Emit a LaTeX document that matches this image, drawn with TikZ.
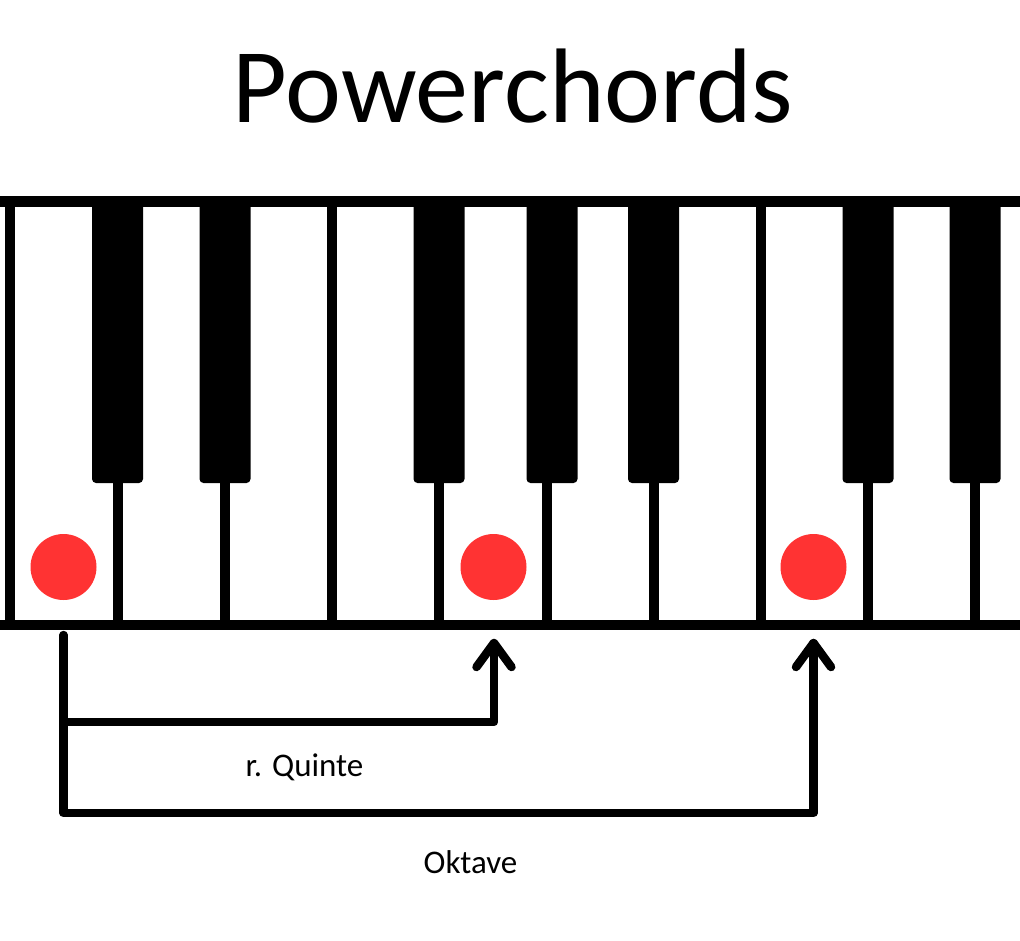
\documentclass[tikz,border=0pt]{standalone}
\usepackage{fontspec}
\setmainfont{Carlito}
\begin{document}
\begin{tikzpicture}[x=1pt,y=-1pt,
  wline/.style={line width=10pt},
  bkey/.style={fill=black,rounded corners=4pt},
  dot/.style={circle,fill=red!80!white,minimum size=66pt,inner sep=0pt},
  conn/.style={line width=8.5pt,line cap=round,line join=round},
  lbl/.style={font=\fontsize{33}{36}\selectfont,inner sep=0pt}]
\useasboundingbox[fill=white] (0,0) rectangle (1020,940);
% title
\node[font=\fontsize{106}{110}\selectfont,anchor=base,inner sep=0pt] (title) at (513,122) {Powerchords};
% white key dividers
\foreach \x in {10,117.5,225,332,439,547,653.5,761,868,975}
  \draw[wline] (\x,201) -- (\x,625);
% black keys
\foreach \x in {117.5,225,439,552,653.5,868,975}
  \path[bkey] (\x-25.5,200) -- (\x+25.5,200) -- (\x+25.5,483) -- (\x-25.5,483) -- cycle;
% top and bottom bars
\draw[line width=11pt] (0,201) -- (1020,201);
\draw[wline] (0,625) -- (1020,625);
% dots
\node[dot] (root) at (63.5,567) {};
\node[dot] (fifth) at (493.5,567) {};
\node[dot] (octave) at (813.5,567) {};
% connectors
\coordinate (rs) at (63.5,635);
\coordinate (qc) at (63.5,722);
\coordinate (oc) at (63.5,813);
\coordinate (qt) at (494,643);
\coordinate (ot) at (813.5,643);
\draw[conn] (rs) -- (oc) -- (oc -| ot) -- (ot);
\draw[conn] (qc) -- (qc -| qt) -- (qt);
\draw[conn] ([xshift=-17.5pt,yshift=-24pt]qt) -- (qt) -- ([xshift=17.5pt,yshift=-24pt]qt);
\draw[conn] ([xshift=-17.5pt,yshift=-24pt]ot) -- (ot) -- ([xshift=17.5pt,yshift=-24pt]ot);
% labels
\node[lbl,anchor=base] (lq) at (304.5,776) {r. Quinte};
\node[lbl,anchor=base] (lo) at (470.5,873) {Oktave};
\end{tikzpicture}
\end{document}
